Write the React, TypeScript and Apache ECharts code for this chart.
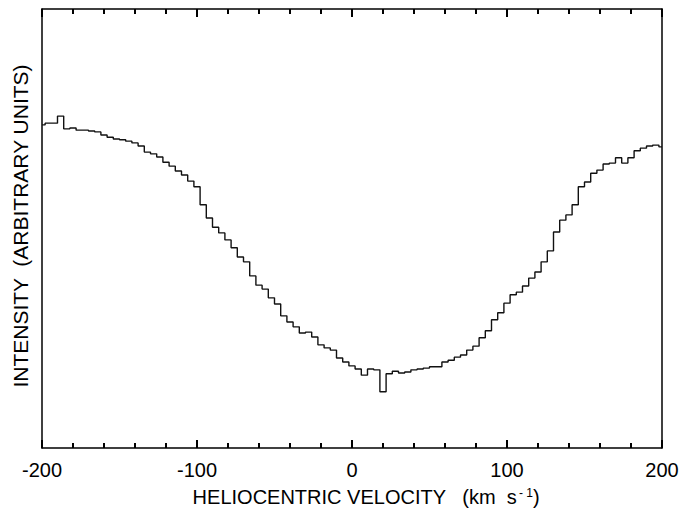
import React, { useEffect, useRef } from "react";
import * as echarts from "echarts";

// Heliocentric velocity channels (km/s)
const velocities: number[] = [
  -200, -196, -192, -188, -184, -180, -176, -172, -168, -164,
  -160, -156, -152, -148, -144, -140, -136, -132, -128, -124,
  -120, -116, -112, -108, -104, -100, -96, -92, -88, -84,
  -80, -76, -72, -68, -64, -60, -56, -52, -48, -44,
  -40, -36, -32, -28, -24, -20, -16, -12, -8, -4,
  0, 4, 8, 12, 16, 20, 24, 28, 32, 36,
  40, 44, 48, 52, 56, 60, 64, 68, 72, 76,
  80, 84, 88, 92, 96, 100, 104, 108, 112, 116,
  120, 124, 128, 132, 136, 140, 144, 148, 152, 156,
  160, 164, 168, 172, 176, 180, 184, 188, 192, 196, 200,
];

// Intensity (arbitrary units)
const intensity: number[] = [
  73.6, 74.0, 74.0, 75.6, 72.7, 72.9, 72.4, 72.4, 72.2, 72.0,
  71.3, 70.8, 70.4, 70.2, 69.9, 69.5, 68.8, 67.4, 67.0, 66.3,
  65.1, 64.2, 63.1, 62.2, 60.8, 59.5, 55.4, 52.4, 50.3, 49.0,
  47.4, 45.6, 43.5, 42.4, 39.2, 37.1, 36.2, 34.2, 32.8, 30.1,
  28.7, 27.6, 26.2, 26.4, 25.3, 23.5, 22.8, 22.3, 20.5, 19.6,
  18.7, 18.0, 16.6, 18.0, 17.8, 12.8, 16.9, 17.5, 17.1, 17.3,
  17.8, 18.0, 18.2, 18.5, 18.5, 19.6, 20.0, 20.7, 21.2, 22.3,
  23.2, 25.1, 26.7, 29.2, 30.8, 33.0, 34.9, 35.5, 36.9, 38.7,
  40.1, 42.4, 44.9, 49.2, 51.9, 53.1, 55.4, 59.5, 60.6, 62.6,
  63.3, 64.7, 64.9, 66.1, 64.9, 66.1, 67.7, 68.3, 68.8, 69.0, 68.6,
];

const xRange = { min: -200, max: 200, interval: 100 };
const yRange = { min: 0, max: 100 };
const xTitle = "HELIOCENTRIC VELOCITY";
const yTitle = "INTENSITY  (ARBITRARY UNITS)";

const font = "'Liberation Sans', Arial, Helvetica, sans-serif";

function makeXAxis(position: "top" | "bottom", showLabels: boolean) {
  return {
    type: "value",
    position,
    min: xRange.min,
    max: xRange.max,
    interval: xRange.interval,
    axisLine: { show: true, onZero: false, lineStyle: { color: "#000", width: 1.5 } },
    axisTick: { show: true, inside: true, length: 8, lineStyle: { color: "#000", width: 2 } },
    minorTick: { show: true, splitNumber: 5, length: 5, lineStyle: { color: "#000", width: 2 } },
    splitLine: { show: false },
    axisLabel: showLabels
      ? { show: true, color: "#000", fontSize: 20, fontFamily: font, margin: 12 }
      : { show: false },
  };
}

export default function App() {
  const ref = useRef<HTMLDivElement>(null);
  useEffect(() => {
    if (!ref.current) return;
    const chart = echarts.init(ref.current, undefined, { renderer: "svg" });
    chart.setOption({
      animation: false,
      grid: { left: 42, right: 20, top: 9, bottom: 65 },
      xAxis: [makeXAxis("bottom", true), makeXAxis("top", false)],
      yAxis: [
        {
          type: "value",
          position: "left",
          min: yRange.min,
          max: yRange.max,
          axisLine: { show: true, onZero: false, lineStyle: { color: "#000", width: 1.5 } },
          axisTick: { show: false },
          axisLabel: { show: false },
          splitLine: { show: false },
        },
        {
          type: "value",
          position: "right",
          min: yRange.min,
          max: yRange.max,
          axisLine: { show: true, onZero: false, lineStyle: { color: "#000", width: 1.5 } },
          axisTick: { show: false },
          axisLabel: { show: false },
          splitLine: { show: false },
        },
      ],
      series: [
        {
          type: "line",
          step: "middle",
          data: velocities.map((v, i) => [v, intensity[i]]),
          xAxisIndex: 0,
          yAxisIndex: 0,
          symbol: "none",
          lineStyle: { color: "#111", width: 1.4 },
        },
      ],
      graphic: [
        {
          type: "text",
          x: 366,
          y: 497,
          style: {
            text: "{t|" + xTitle + "   (km  s}{s|- 1}{t|)}",
            rich: {
              t: { fontSize: 20, fontFamily: font, fill: "#000" },
              s: { fontSize: 12, fontFamily: font, fill: "#000", verticalAlign: "top", padding: [0, 0, 9, 2] },
            },
            align: "center",
            verticalAlign: "middle",
          },
        },
        {
          type: "text",
          x: 20,
          y: 226,
          rotation: Math.PI / 2,
          style: {
            text: yTitle,
            fontSize: 21,
            fontFamily: font,
            fill: "#000",
            align: "center",
            verticalAlign: "middle",
          },
        },
      ],
    });
    return () => chart.dispose();
  }, []);
  return <div ref={ref} style={{ width: 682, height: 513, position: "absolute", left: 0, top: 0 }} />;
}
